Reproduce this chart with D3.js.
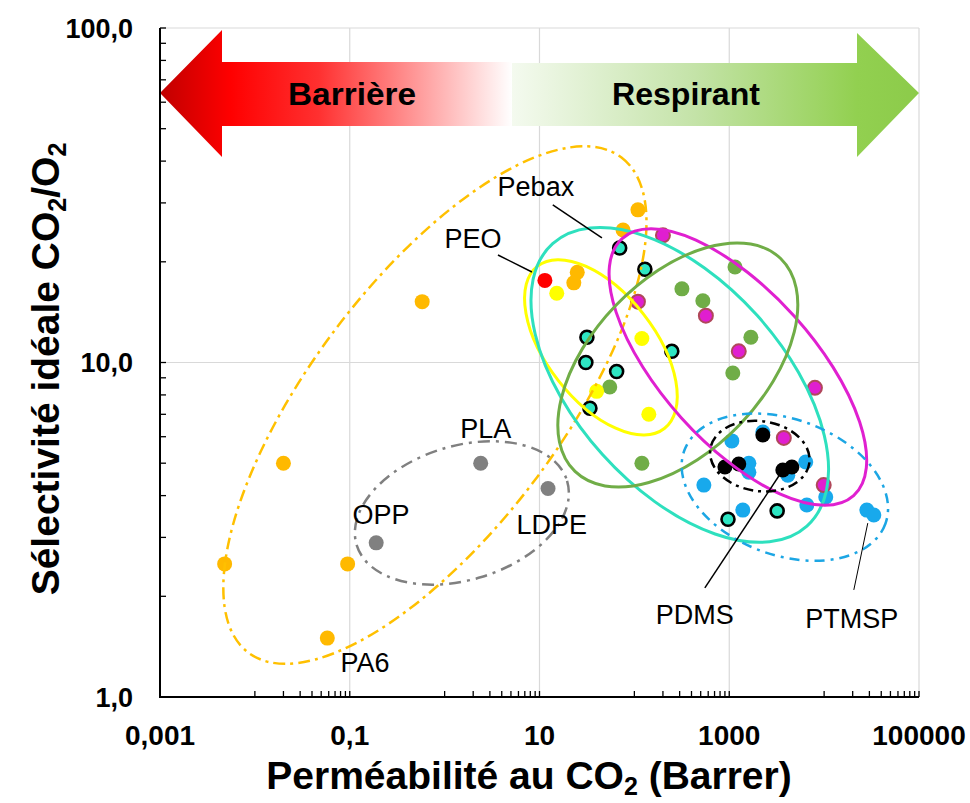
<!DOCTYPE html>
<html>
<head>
<meta charset="utf-8">
<script src="https://cdn.jsdelivr.net/npm/d3@7"></script>
<style>
  body { margin: 0; background: #fff; }
  text { font-family: Arial, "Liberation Sans", sans-serif; }
</style>
</head>
<body>
<svg id="chart" width="970" height="803"></svg>
<script>
// ---- data (x = perméabilité CO2 en Barrer, y = sélectivité CO2/O2) ----
const orangePts  = [[0.0048, 2.5], [0.02, 5.0], [0.095, 2.5], [0.058, 1.5], [0.58, 15.2],
                    [25, 18.6], [23, 17.3], [76, 24.9], [109, 28.6]];
const redPts     = [[11.4, 17.6]];
const yellowPts  = [[15.2, 16.1], [120, 11.8], [40, 8.2], [142, 7.0]];
const greenPts   = [[317, 16.6], [527, 15.3], [1150, 19.3], [1690, 11.9], [1090, 9.3],
                    [55, 8.45], [120, 5.0]];
const magentaPts = [[200, 24], [109, 15.2], [567, 13.8], [1260, 10.8], [8000, 8.4],
                    [3760, 5.95], [9900, 4.3]];
const bluePts    = [[1065, 5.83], [2260, 6.2], [1610, 5.0], [1610, 4.7], [6400, 5.04],
                    [4140, 4.6], [540, 4.3], [10400, 3.96], [6570, 3.75], [1390, 3.62],
                    [28200, 3.62], [33400, 3.5]];
const blackPts   = [[2260, 6.07], [900, 4.87], [1260, 4.97], [3670, 4.77], [4570, 4.87]];
const pebaxPts   = [[70, 22], [129, 19], [31.6, 11.9], [30.8, 10.0], [65, 9.4], [248, 10.8],
                    [34, 7.3], [970, 3.4], [3200, 3.6]];
const grayPts    = [[0.19, 2.89], [2.4, 5.0], [12.3, 4.2]];

const xTickValues = [0.001, 0.1, 10, 1000, 100000];
const xTickLabels = ['0,001', '0,1', '10', '1000', '100000'];
const yTickValues = [1, 10, 100];
const yTickLabels = ['1,0', '10,0', '100,0'];

// ellipse centres (data units) ; shape in pixels
const ellipseCenters = [[0.79, 7.46], [1.52, 3.55], [44.4, 11.1], [301, 8.57],
                        [1233, 9.69], [287, 9.83], [3855, 4.24], [2100, 5.25]];
const ellipseShapes = [
  {rx: 310, ry: 125, rot: -53, color: '#FFC000', dash: '12,5,3,5', w: 2.5},
  {rx: 110, ry: 67,  rot: -17, color: '#808080', dash: '12,6,3,6', w: 2.5},
  {rx: 103, ry: 54,  rot: 52,  color: '#FFFF00', dash: null, w: 3},
  {rx: 190, ry: 104, rot: 48,  color: '#2EE0BE', dash: null, w: 3},
  {rx: 173, ry: 76,  rot: 48,  color: '#E020D0', dash: null, w: 3},
  {rx: 148, ry: 86,  rot: -46, color: '#70AD47', dash: null, w: 3},
  {rx: 107, ry: 68,  rot: 20,  color: '#1CA6E4', dash: '10,6,3,6', w: 2.5},
  {rx: 50,  ry: 35,  rot: 8,   color: '#000000', dash: '10,5,3,5', w: 2.5}
];

const labelNames = ['Pebax', 'PEO', 'PLA', 'OPP', 'LDPE', 'PA6', 'PDMS', 'PTMSP'];
const labelPos   = [[9.16, 31.5], [1.99, 22.0], [2.72, 5.95], [0.213, 3.29], [13.5, 3.07],
                    [0.1445, 1.188], [434, 1.653], [19600, 1.608]];
const leaderLines = [
  [[13.8, 29.6], [45.5, 23.6]],
  [[3.65, 20.96], [8.32, 18.65]],
  [[553, 2.12], [3670, 4.77]],
  [[20560, 2.09], [28840, 3.31]]
];

// ---- scales ----
const svg = d3.select('#chart');
const x = d3.scaleLog().domain([0.001, 100000]).range([160, 919]);
const y = d3.scaleLog().domain([1, 100]).range([697, 28]);

// grid
const grid = svg.append('g');
grid.selectAll('line.gx').data([0.1, 10, 1000, 100000]).enter().append('line')
  .attr('x1', d => x(d)).attr('x2', d => x(d)).attr('y1', y(100)).attr('y2', y(1))
  .attr('stroke', '#d9d9d9').attr('stroke-width', 1.2);
grid.selectAll('line.gy').data([10, 100]).enter().append('line')
  .attr('y1', d => y(d)).attr('y2', d => y(d)).attr('x1', x(0.001)).attr('x2', x(100000))
  .attr('stroke', '#d9d9d9').attr('stroke-width', 1.2);

// arrow band
const defs = svg.append('defs');
const gRed = defs.append('linearGradient').attr('id', 'gradRed')
  .attr('gradientUnits', 'userSpaceOnUse').attr('x1', 160).attr('x2', 512).attr('y1', 0).attr('y2', 0);
[[0, '#C00000'], [0.2, '#FF0000'], [0.45, '#FF3030'], [1, '#FFFFFF']].forEach(s =>
  gRed.append('stop').attr('offset', s[0]).attr('stop-color', s[1]));
const gGreen = defs.append('linearGradient').attr('id', 'gradGreen')
  .attr('gradientUnits', 'userSpaceOnUse').attr('x1', 512).attr('x2', 918).attr('y1', 0).attr('y2', 0);
[[0, '#F4FAEF'], [0.45, '#C4E3A8'], [0.85, '#92D050'], [1, '#8CCB4A']].forEach(s =>
  gGreen.append('stop').attr('offset', s[0]).attr('stop-color', s[1]));

const aL = x(0.001), aR = x(100000), aMid = 512;
svg.append('path')
  .attr('d', `M${aL},93 L${aL + 62},30 L${aL + 62},62 L${aMid},62 L${aMid},126 L${aL + 62},126 L${aL + 62},157 Z`)
  .attr('fill', 'url(#gradRed)');
svg.append('path')
  .attr('d', `M${aR},93 L${aR - 62},33 L${aR - 62},63 L${aMid},63 L${aMid},126 L${aR - 62},126 L${aR - 62},157 Z`)
  .attr('fill', 'url(#gradGreen)');
svg.append('text').attr('x', 352).attr('y', 105).attr('text-anchor', 'middle')
  .attr('font-weight', 'bold').attr('font-size', 32)
  .attr('style', 'font-family:"Liberation Sans Narrow","Arial Narrow",Arial,sans-serif')
  .attr('textLength', 128).attr('lengthAdjust', 'spacingAndGlyphs').text('Barrière');
svg.append('text').attr('x', 686).attr('y', 105).attr('text-anchor', 'middle')
  .attr('font-weight', 'bold').attr('font-size', 32)
  .attr('style', 'font-family:"Liberation Sans Narrow","Arial Narrow",Arial,sans-serif')
  .attr('textLength', 148).attr('lengthAdjust', 'spacingAndGlyphs').text('Respirant');

// axes
const ax = svg.append('g');
ax.append('line').attr('x1', x(0.001)).attr('x2', x(100000)).attr('y1', y(1)).attr('y2', y(1))
  .attr('stroke', '#000').attr('stroke-width', 2);
ax.append('line').attr('x1', x(0.001)).attr('x2', x(0.001)).attr('y1', y(1) + 1).attr('y2', y(100))
  .attr('stroke', '#000').attr('stroke-width', 2);

const xMinor = [];
[0.001, 0.1, 10, 1000].forEach(d => { for (let k = 1; k <= 9; k++) xMinor.push(d * 10 * k); });
ax.selectAll('line.xt').data(xMinor.concat(xTickValues)).enter().append('line')
  .attr('x1', d => x(d)).attr('x2', d => x(d)).attr('y1', y(1)).attr('y2', y(1) - 6)
  .attr('stroke', '#000').attr('stroke-width', 1.3);
const yMinor = [];
[1, 10].forEach(d => { for (let k = 2; k <= 9; k++) yMinor.push(d * k); });
ax.selectAll('line.yt').data(yMinor.concat(yTickValues)).enter().append('line')
  .attr('y1', d => y(d)).attr('y2', d => y(d)).attr('x1', x(0.001)).attr('x2', x(0.001) + 6)
  .attr('stroke', '#000').attr('stroke-width', 1.3);

ax.selectAll('text.xl').data(xTickValues).enter().append('text')
  .attr('x', d => x(d)).attr('y', 745).attr('text-anchor', 'middle')
  .attr('font-weight', 'bold').attr('font-size', 28)
  .text((d, i) => xTickLabels[i]);
ax.selectAll('text.yl').data(yTickValues).enter().append('text')
  .attr('x', 133).attr('y', d => y(d) + 9.5).attr('text-anchor', 'end')
  .attr('font-weight', 'bold').attr('font-size', 27)
  .text((d, i) => yTickLabels[i]);

// axis titles
const xt = svg.append('text').attr('x', 529).attr('y', 789).attr('text-anchor', 'middle')
  .attr('font-weight', 'bold').attr('font-size', 39);
xt.append('tspan').text('Perméabilité au CO');
xt.append('tspan').attr('font-size', 25).attr('dy', 6).text('2');
xt.append('tspan').attr('dy', -6).text(' (Barrer)');

const yt = svg.append('text').attr('transform', 'translate(59,369) rotate(-90)')
  .attr('text-anchor', 'middle').attr('font-weight', 'bold').attr('font-size', 39);
yt.append('tspan').text('Sélectivité idéale CO');
yt.append('tspan').attr('font-size', 25).attr('dy', 7).text('2');
yt.append('tspan').attr('dy', -7).text('/O');
yt.append('tspan').attr('font-size', 25).attr('dy', 7).text('2');

// points
const plot = svg.append('g');
const drawPts = function(data, fill, stroke, sw, r) {
  plot.append('g').selectAll('circle').data(data).enter().append('circle')
    .attr('cx', d => x(d[0])).attr('cy', d => y(d[1])).attr('r', r || 7.5)
    .attr('fill', fill).attr('stroke', stroke || 'none').attr('stroke-width', sw || 0);
};
drawPts(orangePts, '#FFB900');
drawPts(grayPts, '#808080');
drawPts(redPts, '#FF0000');
drawPts(greenPts, '#70AD47');
drawPts(bluePts, '#18A9EC');
drawPts(blackPts, '#000000');
drawPts(yellowPts, '#FFFF00');
drawPts(magentaPts, '#E01ED0', '#B0485A', 2, 7);
drawPts(pebaxPts, '#2EE6C3', '#000', 2.6, 6.5);

// ellipses
svg.append('g').selectAll('ellipse').data(ellipseCenters).enter().append('ellipse')
  .attr('cx', d => x(d[0])).attr('cy', d => y(d[1]))
  .attr('rx', (d, i) => ellipseShapes[i].rx).attr('ry', (d, i) => ellipseShapes[i].ry)
  .attr('transform', (d, i) => `rotate(${ellipseShapes[i].rot} ${x(d[0])} ${y(d[1])})`)
  .attr('fill', 'none')
  .attr('stroke', (d, i) => ellipseShapes[i].color)
  .attr('stroke-width', (d, i) => ellipseShapes[i].w)
  .attr('stroke-dasharray', (d, i) => ellipseShapes[i].dash);

// annotations
svg.append('g').selectAll('line').data(leaderLines).enter().append('line')
  .attr('x1', d => x(d[0][0])).attr('y1', d => y(d[0][1]))
  .attr('x2', d => x(d[1][0])).attr('y2', d => y(d[1][1]))
  .attr('stroke', '#000').attr('stroke-width', (d, i) => i === 3 ? 1 : 1.5);
svg.append('g').selectAll('text').data(labelPos).enter().append('text')
  .attr('x', d => x(d[0])).attr('y', d => y(d[1])).attr('text-anchor', 'middle')
  .attr('font-size', 27).text((d, i) => labelNames[i]);
</script>
</body>
</html>
